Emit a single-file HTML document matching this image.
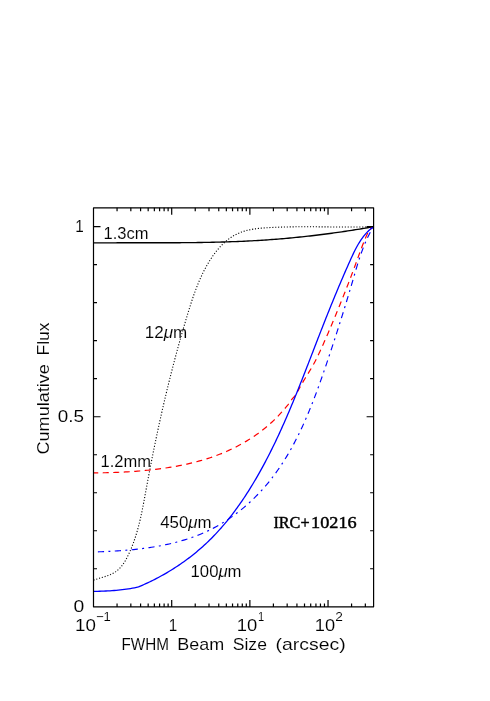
<!DOCTYPE html>
<html><head><meta charset="utf-8"><title>Cumulative Flux vs FWHM Beam Size</title>
<style>
html,body{margin:0;padding:0;background:#fff;}
body{width:490px;height:701px;overflow:hidden;font-family:"Liberation Sans",sans-serif;}
svg{display:block;will-change:transform;}
</style></head><body>
<svg width="490" height="701" viewBox="0 0 490 701" role="img" aria-label="Cumulative flux versus FWHM beam size for IRC+10216">
<rect width="490" height="701" fill="#fff"/>
<g fill="none" stroke-linejoin="round">
<path d="M93.50 580.20 L95.39 579.53 L97.30 578.92 L99.22 578.34 L101.14 577.77 L103.07 577.19 L104.98 576.60 L106.88 575.96 L108.77 575.27 L110.62 574.51 L112.44 573.66 L114.20 572.70 L115.88 571.60 L117.47 570.38 L118.96 569.04 L120.36 567.60 L121.65 566.07 L122.87 564.47 L124.00 562.82 L125.05 561.11 L126.05 559.37 L127.00 557.61 L127.90 555.81 L128.77 554.01 L129.61 552.18 L130.42 550.35 L131.20 548.50 L131.96 546.65 L132.68 544.78 L133.39 542.90 L134.06 541.01 L134.72 539.11 L135.35 537.21 L135.96 535.30 L136.54 533.38 L137.11 531.45 L137.65 529.52 L138.18 527.59 L138.69 525.65 L139.18 523.71 L139.66 521.76 L140.12 519.81 L140.57 517.85 L141.01 515.89 L141.43 513.93 L141.85 511.97 L142.25 510.01 L142.65 508.04 L143.03 506.07 L143.41 504.10 L143.79 502.13 L144.16 500.16 L144.52 498.19 L144.89 496.21 L145.25 494.24 L145.61 492.27 L145.97 490.30 L146.33 488.32 L146.69 486.35 L147.06 484.38 L147.42 482.41 L147.79 480.43 L148.16 478.46 L148.53 476.49 L148.91 474.52 L149.28 472.55 L149.66 470.58 L150.04 468.61 L150.42 466.64 L150.80 464.67 L151.19 462.70 L151.57 460.74 L151.96 458.77 L152.35 456.80 L152.75 454.83 L153.14 452.87 L153.54 450.90 L153.94 448.94 L154.34 446.97 L154.75 445.01 L155.15 443.04 L155.56 441.08 L155.97 439.11 L156.38 437.15 L156.80 435.19 L157.21 433.23 L157.63 431.27 L158.05 429.30 L158.48 427.34 L158.90 425.38 L159.33 423.42 L159.76 421.46 L160.19 419.51 L160.63 417.55 L161.06 415.59 L161.50 413.63 L161.95 411.68 L162.39 409.72 L162.84 407.77 L163.29 405.81 L163.74 403.86 L164.19 401.90 L164.65 399.95 L165.11 398.00 L165.57 396.05 L166.04 394.09 L166.50 392.14 L166.97 390.19 L167.45 388.24 L167.92 386.30 L168.40 384.35 L168.88 382.40 L169.36 380.45 L169.85 378.51 L170.34 376.56 L170.83 374.62 L171.32 372.67 L171.82 370.73 L172.32 368.79 L172.82 366.85 L173.32 364.90 L173.83 362.96 L174.34 361.02 L174.85 359.08 L175.37 357.15 L175.89 355.21 L176.41 353.27 L176.93 351.34 L177.46 349.40 L177.99 347.47 L178.53 345.53 L179.06 343.60 L179.60 341.67 L180.14 339.74 L180.69 337.81 L181.24 335.88 L181.79 333.95 L182.34 332.02 L182.90 330.09 L183.46 328.17 L184.02 326.24 L184.59 324.32 L185.16 322.40 L185.73 320.47 L186.31 318.55 L186.89 316.63 L187.47 314.71 L188.05 312.79 L188.64 310.88 L189.24 308.96 L189.83 307.05 L190.44 305.13 L191.05 303.22 L191.67 301.32 L192.31 299.41 L192.95 297.51 L193.60 295.62 L194.27 293.72 L194.95 291.84 L195.64 289.96 L196.35 288.08 L197.08 286.21 L197.82 284.35 L198.58 282.49 L199.36 280.64 L200.17 278.81 L200.99 276.98 L201.83 275.16 L202.70 273.35 L203.59 271.55 L204.51 269.77 L205.45 267.99 L206.41 266.24 L207.40 264.49 L208.42 262.76 L209.47 261.05 L210.54 259.36 L211.64 257.68 L212.78 256.03 L213.94 254.40 L215.14 252.79 L216.38 251.21 L217.65 249.66 L218.96 248.14 L220.30 246.65 L221.69 245.20 L223.11 243.79 L224.58 242.42 L226.09 241.10 L227.65 239.84 L229.24 238.62 L230.88 237.47 L232.57 236.38 L234.30 235.36 L236.06 234.41 L237.87 233.55 L239.72 232.76 L241.59 232.05 L243.49 231.41 L245.42 230.84 L247.36 230.33 L249.31 229.88 L251.28 229.49 L253.25 229.14 L255.24 228.84 L257.22 228.57 L259.22 228.35 L261.21 228.15 L263.21 227.98 L265.21 227.83 L267.21 227.70 L269.22 227.59 L271.22 227.49 L273.22 227.39 L275.23 227.31 L277.23 227.23 L279.24 227.16 L281.24 227.10 L283.25 227.04 L285.25 226.99 L287.26 226.94 L289.26 226.90 L291.27 226.87 L293.27 226.84 L295.28 226.82 L297.28 226.80 L299.29 226.78 L301.30 226.77 L303.30 226.77 L305.31 226.77 L307.31 226.77 L309.32 226.77 L311.32 226.78 L313.33 226.79 L315.34 226.80 L317.34 226.82 L319.35 226.83 L321.35 226.85 L323.36 226.87 L325.36 226.89 L327.37 226.91 L329.38 226.93 L331.38 226.94 L333.39 226.96 L335.39 226.98 L337.40 227.00 L339.40 227.01 L341.41 227.03 L343.42 227.04 L345.42 227.05 L347.43 227.06 L349.43 227.06 L351.44 227.06 L353.44 227.06 L355.45 227.06 L357.46 227.05 L359.46 227.03 L361.47 227.01 L363.47 226.99 L365.48 226.96 L367.48 226.93 L369.49 226.89 L371.49 226.85 L373.50 226.80" stroke="#000" stroke-width="1.1" stroke-dasharray="1.1 1.8"/>
<path d="M93.50 242.90 L95.51 242.88 L97.51 242.87 L99.52 242.86 L101.53 242.85 L103.53 242.84 L105.54 242.83 L107.55 242.82 L109.55 242.81 L111.56 242.81 L113.57 242.80 L115.57 242.80 L117.58 242.79 L119.59 242.79 L121.59 242.79 L123.60 242.79 L125.61 242.79 L127.61 242.79 L129.62 242.79 L131.63 242.79 L133.63 242.79 L135.64 242.79 L137.65 242.79 L139.65 242.79 L141.66 242.79 L143.66 242.79 L145.67 242.79 L147.68 242.79 L149.68 242.79 L151.69 242.79 L153.70 242.79 L155.70 242.79 L157.71 242.79 L159.72 242.79 L161.72 242.78 L163.73 242.78 L165.74 242.77 L167.74 242.77 L169.75 242.76 L171.76 242.75 L173.76 242.75 L175.77 242.74 L177.78 242.72 L179.78 242.71 L181.79 242.70 L183.80 242.68 L185.80 242.67 L187.81 242.65 L189.82 242.63 L191.82 242.60 L193.83 242.58 L195.84 242.56 L197.84 242.53 L199.85 242.50 L201.85 242.47 L203.86 242.43 L205.87 242.40 L207.87 242.36 L209.88 242.32 L211.89 242.28 L213.89 242.23 L215.90 242.18 L217.90 242.13 L219.91 242.08 L221.92 242.02 L223.92 241.96 L225.93 241.90 L227.93 241.84 L229.94 241.77 L231.94 241.70 L233.95 241.62 L235.95 241.55 L237.96 241.47 L239.96 241.38 L241.97 241.30 L243.97 241.21 L245.98 241.11 L247.98 241.01 L249.99 240.91 L251.99 240.81 L253.99 240.70 L256.00 240.58 L258.00 240.47 L260.00 240.35 L262.01 240.22 L264.01 240.09 L266.01 239.96 L268.01 239.82 L270.01 239.68 L272.01 239.53 L274.02 239.38 L276.02 239.23 L278.02 239.07 L280.02 238.90 L282.02 238.74 L284.02 238.56 L286.01 238.39 L288.01 238.21 L290.01 238.02 L292.01 237.84 L294.01 237.64 L296.00 237.45 L298.00 237.25 L300.00 237.04 L301.99 236.83 L303.99 236.62 L305.98 236.40 L307.98 236.18 L309.97 235.96 L311.96 235.73 L313.96 235.50 L315.95 235.26 L317.94 235.02 L319.93 234.77 L321.92 234.53 L323.91 234.27 L325.90 234.02 L327.89 233.76 L329.88 233.49 L331.87 233.22 L333.86 232.95 L335.85 232.67 L337.83 232.39 L339.82 232.11 L341.81 231.82 L343.79 231.53 L345.78 231.23 L347.76 230.94 L349.74 230.63 L351.73 230.33 L353.71 230.01 L355.69 229.70 L357.67 229.38 L359.65 229.06 L361.63 228.73 L363.61 228.40 L365.59 228.07 L367.57 227.73 L369.55 227.39 L371.52 227.05 L373.50 226.70" stroke="#000" stroke-width="1.35"/>
<path d="M93.50 472.90 L95.50 472.88 L97.50 472.86 L99.50 472.84 L101.51 472.81 L103.51 472.77 L105.51 472.73 L107.51 472.68 L109.51 472.63 L111.51 472.57 L113.51 472.50 L115.51 472.43 L117.51 472.35 L119.51 472.26 L121.51 472.17 L123.51 472.07 L125.51 471.96 L127.51 471.85 L129.50 471.73 L131.50 471.60 L133.50 471.46 L135.49 471.31 L137.49 471.16 L139.48 470.99 L141.48 470.82 L143.47 470.64 L145.46 470.45 L147.46 470.25 L149.45 470.05 L151.44 469.83 L153.42 469.60 L155.41 469.36 L157.40 469.12 L159.38 468.86 L161.37 468.59 L163.35 468.31 L165.33 468.02 L167.31 467.72 L169.29 467.41 L171.26 467.09 L173.23 466.75 L175.21 466.41 L177.17 466.05 L179.14 465.68 L181.11 465.29 L183.07 464.90 L185.03 464.48 L186.98 464.06 L188.93 463.62 L190.88 463.17 L192.83 462.70 L194.77 462.21 L196.71 461.71 L198.64 461.19 L200.57 460.66 L202.50 460.11 L204.41 459.54 L206.33 458.95 L208.24 458.34 L210.14 457.72 L212.03 457.08 L213.92 456.42 L215.80 455.74 L217.68 455.04 L219.55 454.31 L221.41 453.57 L223.26 452.81 L225.10 452.03 L226.94 451.24 L228.76 450.42 L230.58 449.58 L232.39 448.72 L234.18 447.84 L235.97 446.94 L237.75 446.02 L239.52 445.08 L241.27 444.12 L243.02 443.14 L244.75 442.13 L246.47 441.11 L248.18 440.07 L249.88 439.01 L251.56 437.93 L253.23 436.82 L254.89 435.70 L256.53 434.55 L258.15 433.39 L259.77 432.20 L261.36 430.99 L262.95 429.77 L264.51 428.52 L266.06 427.25 L267.59 425.96 L269.10 424.65 L270.60 423.32 L272.08 421.97 L273.54 420.60 L274.97 419.21 L276.39 417.80 L277.79 416.37 L279.17 414.92 L280.53 413.45 L281.88 411.97 L283.20 410.47 L284.51 408.95 L285.80 407.42 L287.07 405.88 L288.32 404.31 L289.51 402.70 L290.67 401.07 L291.82 399.44 L293.07 397.87 L294.48 396.46 L295.62 394.82 L296.65 393.10 L297.64 391.36 L298.61 389.61 L299.58 387.86 L300.55 386.11 L301.54 384.37 L302.54 382.64 L303.56 380.92 L304.60 379.20 L305.64 377.49 L306.69 375.79 L307.74 374.08 L308.79 372.38 L309.83 370.67 L310.86 368.96 L311.88 367.23 L312.88 365.50 L313.85 363.75 L314.80 361.99 L315.73 360.21 L316.63 358.42 L317.50 356.63 L318.37 354.82 L319.22 353.01 L320.06 351.19 L320.89 349.37 L321.72 347.55 L322.54 345.72 L323.36 343.90 L324.18 342.07 L324.99 340.24 L325.79 338.41 L326.60 336.57 L327.39 334.74 L328.19 332.90 L328.98 331.06 L329.77 329.22 L330.55 327.38 L331.33 325.54 L332.11 323.69 L332.88 321.85 L333.65 320.00 L334.42 318.15 L335.19 316.30 L335.95 314.45 L336.71 312.60 L337.47 310.75 L338.23 308.90 L338.98 307.04 L339.74 305.19 L340.49 303.33 L341.23 301.48 L341.98 299.62 L342.72 297.76 L343.47 295.90 L344.20 294.04 L344.94 292.18 L345.67 290.32 L346.41 288.46 L347.13 286.59 L347.86 284.73 L348.58 282.86 L349.30 280.99 L350.01 279.12 L350.73 277.25 L351.44 275.38 L352.14 273.51 L352.84 271.63 L353.54 269.76 L354.24 267.88 L354.93 266.00 L355.62 264.12 L356.30 262.24 L356.98 260.36 L357.66 258.48 L358.34 256.59 L359.03 254.71 L359.71 252.83 L360.41 250.96 L361.11 249.08 L361.81 247.21 L362.53 245.34 L363.26 243.47 L364.00 241.62 L364.76 239.76 L365.53 237.91 L366.32 236.08 L367.16 234.26 L368.10 232.50 L369.18 230.81 L370.43 229.25 L371.87 227.86 L373.50 226.70" stroke="#ff0000" stroke-width="1.2" stroke-dasharray="6 4.5" stroke-dashoffset="1.25"/>
<path d="M93.50 552.00 L95.50 551.93 L97.51 551.86 L99.51 551.79 L101.52 551.71 L103.52 551.62 L105.53 551.53 L107.53 551.44 L109.53 551.34 L111.54 551.23 L113.54 551.12 L115.54 551.00 L117.54 550.87 L119.54 550.74 L121.54 550.59 L123.54 550.44 L125.54 550.28 L127.54 550.12 L129.54 549.94 L131.54 549.75 L133.53 549.56 L135.53 549.35 L137.52 549.14 L139.52 548.91 L141.51 548.67 L143.50 548.42 L145.49 548.16 L147.47 547.88 L149.46 547.60 L151.44 547.30 L153.42 546.98 L155.40 546.66 L157.38 546.31 L159.35 545.96 L161.32 545.59 L163.29 545.20 L165.26 544.80 L167.22 544.38 L169.18 543.95 L171.13 543.50 L173.08 543.03 L175.03 542.55 L176.97 542.04 L178.90 541.52 L180.84 540.98 L182.76 540.42 L184.68 539.84 L186.60 539.24 L188.50 538.62 L190.41 537.98 L192.30 537.32 L194.18 536.64 L196.06 535.93 L197.93 535.21 L199.79 534.46 L201.64 533.68 L203.49 532.89 L205.32 532.07 L207.14 531.23 L208.95 530.36 L210.75 529.48 L212.53 528.56 L214.31 527.63 L216.07 526.67 L217.82 525.70 L219.56 524.70 L221.29 523.67 L223.00 522.63 L224.70 521.57 L226.39 520.49 L228.06 519.38 L229.73 518.26 L231.37 517.12 L233.01 515.96 L234.63 514.78 L236.24 513.58 L237.83 512.36 L239.41 511.13 L240.98 509.87 L242.53 508.60 L244.07 507.32 L245.60 506.01 L247.11 504.69 L248.60 503.36 L250.08 502.00 L251.55 500.63 L253.00 499.25 L254.44 497.85 L255.86 496.44 L257.27 495.01 L258.66 493.56 L260.03 492.10 L261.39 490.63 L262.74 489.14 L264.07 487.64 L265.38 486.13 L266.68 484.60 L267.97 483.06 L269.23 481.50 L270.48 479.93 L271.72 478.35 L272.94 476.76 L274.15 475.16 L275.34 473.54 L276.51 471.92 L277.67 470.28 L278.82 468.64 L279.95 466.98 L281.06 465.31 L282.16 463.64 L283.25 461.95 L284.33 460.26 L285.38 458.55 L286.43 456.84 L287.46 455.12 L288.48 453.39 L289.49 451.66 L290.48 449.92 L291.46 448.17 L292.43 446.41 L293.38 444.65 L294.33 442.88 L295.26 441.10 L296.18 439.32 L297.09 437.53 L297.99 435.74 L298.87 433.94 L299.75 432.13 L300.62 430.32 L301.47 428.51 L302.32 426.69 L303.15 424.87 L303.98 423.04 L304.80 421.21 L305.60 419.37 L306.40 417.53 L307.19 415.69 L307.97 413.84 L308.75 411.99 L309.51 410.14 L310.27 408.28 L311.02 406.42 L311.77 404.56 L312.50 402.69 L313.23 400.82 L313.96 398.95 L314.67 397.08 L315.38 395.20 L316.09 393.33 L316.79 391.45 L317.48 389.56 L318.17 387.68 L318.86 385.79 L319.53 383.91 L320.21 382.02 L320.88 380.13 L321.55 378.24 L322.21 376.34 L322.87 374.45 L323.52 372.55 L324.18 370.66 L324.83 368.76 L325.47 366.86 L326.12 364.96 L326.76 363.06 L327.40 361.16 L328.04 359.26 L328.68 357.36 L329.31 355.46 L329.95 353.55 L330.58 351.65 L331.21 349.75 L331.84 347.84 L332.47 345.94 L333.09 344.03 L333.72 342.12 L334.34 340.22 L334.96 338.31 L335.58 336.40 L336.20 334.49 L336.81 332.58 L337.43 330.68 L338.04 328.76 L338.65 326.85 L339.26 324.94 L339.86 323.03 L340.47 321.12 L341.07 319.20 L341.67 317.29 L342.27 315.38 L342.86 313.46 L343.46 311.55 L344.05 309.63 L344.64 307.71 L345.23 305.80 L345.82 303.88 L346.40 301.96 L346.98 300.04 L347.56 298.12 L348.14 296.20 L348.72 294.28 L349.29 292.36 L349.87 290.43 L350.44 288.51 L351.01 286.59 L351.57 284.66 L352.14 282.74 L352.70 280.81 L353.26 278.89 L353.82 276.96 L354.38 275.04 L354.94 273.11 L355.51 271.19 L356.07 269.26 L356.65 267.34 L357.23 265.42 L357.82 263.50 L358.42 261.59 L359.04 259.68 L359.66 257.77 L360.30 255.87 L360.95 253.98 L361.62 252.09 L362.31 250.20 L363.02 248.33 L363.74 246.46 L364.49 244.60 L365.27 242.75 L366.07 240.91 L366.89 239.08 L367.74 237.26 L368.62 235.46 L369.53 233.67 L370.48 231.90 L371.45 230.15 L372.46 228.41 L373.50 226.70" stroke="#0000ff" stroke-width="1.15" stroke-dasharray="6.2 4.35 2 4.35" stroke-dashoffset="12.5"/>
<path d="M93.50 591.40 L95.56 591.35 L97.62 591.30 L99.68 591.24 L101.74 591.17 L103.79 591.09 L105.85 591.00 L107.91 590.90 L109.96 590.79 L112.02 590.65 L114.07 590.51 L116.13 590.34 L118.18 590.15 L120.23 589.95 L122.28 589.72 L124.32 589.47 L126.36 589.19 L128.40 588.88 L130.43 588.55 L132.46 588.18 L134.48 587.79 L136.49 587.36 L138.50 586.90 L140.34 586.12 L142.18 585.33 L144.01 584.51 L145.83 583.69 L147.65 582.85 L149.45 581.99 L151.26 581.11 L153.05 580.23 L154.83 579.32 L156.61 578.40 L158.38 577.47 L160.14 576.52 L161.90 575.55 L163.64 574.58 L165.38 573.58 L167.11 572.57 L168.83 571.55 L170.54 570.51 L172.24 569.46 L173.93 568.39 L175.61 567.30 L177.29 566.21 L178.95 565.10 L180.60 563.97 L182.25 562.83 L183.88 561.67 L185.50 560.50 L187.12 559.32 L188.72 558.12 L190.31 556.90 L191.89 555.68 L193.46 554.43 L195.02 553.18 L196.56 551.91 L198.10 550.62 L199.62 549.32 L201.13 548.01 L202.63 546.68 L204.11 545.34 L205.58 543.98 L207.04 542.61 L208.49 541.23 L209.92 539.83 L211.34 538.42 L212.74 537.00 L214.14 535.56 L215.52 534.11 L216.89 532.65 L218.24 531.18 L219.58 529.69 L220.91 528.20 L222.23 526.69 L223.54 525.18 L224.83 523.65 L226.11 522.11 L227.38 520.56 L228.64 519.01 L229.88 517.44 L231.11 515.86 L232.34 514.28 L233.55 512.68 L234.75 511.08 L235.93 509.47 L237.11 507.85 L238.28 506.23 L239.43 504.60 L240.58 502.95 L241.71 501.31 L242.84 499.65 L243.95 497.99 L245.06 496.32 L246.15 494.65 L247.24 492.96 L248.32 491.28 L249.38 489.58 L250.44 487.89 L251.49 486.18 L252.53 484.47 L253.56 482.76 L254.59 481.04 L255.60 479.31 L256.61 477.59 L257.61 475.85 L258.60 474.11 L259.59 472.37 L260.56 470.62 L261.53 468.87 L262.49 467.12 L263.45 465.36 L264.39 463.60 L265.33 461.83 L266.26 460.06 L267.19 458.28 L268.11 456.51 L269.02 454.72 L269.93 452.94 L270.82 451.15 L271.72 449.36 L272.60 447.57 L273.48 445.77 L274.36 443.97 L275.22 442.16 L276.09 440.36 L276.94 438.55 L277.79 436.74 L278.64 434.92 L279.48 433.11 L280.31 431.29 L281.14 429.47 L281.96 427.64 L282.78 425.82 L283.60 423.99 L284.41 422.16 L285.21 420.33 L286.01 418.49 L286.81 416.66 L287.60 414.82 L288.39 412.98 L289.17 411.14 L289.95 409.30 L290.73 407.45 L291.50 405.61 L292.27 403.76 L293.04 401.91 L293.80 400.06 L294.56 398.21 L295.32 396.36 L296.07 394.50 L296.82 392.65 L297.57 390.79 L298.32 388.93 L299.06 387.08 L299.80 385.22 L300.54 383.36 L301.28 381.50 L302.01 379.64 L302.75 377.77 L303.48 375.91 L304.21 374.05 L304.94 372.18 L305.66 370.32 L306.39 368.46 L307.11 366.59 L307.84 364.72 L308.56 362.86 L309.28 360.99 L310.01 359.13 L310.73 357.26 L311.45 355.39 L312.17 353.53 L312.89 351.66 L313.61 349.79 L314.33 347.93 L315.05 346.06 L315.78 344.19 L316.50 342.33 L317.22 340.46 L317.94 338.59 L318.67 336.73 L319.39 334.86 L320.12 333.00 L320.85 331.13 L321.58 329.27 L322.31 327.41 L323.04 325.55 L323.77 323.68 L324.51 321.82 L325.24 319.96 L325.98 318.10 L326.72 316.24 L327.46 314.38 L328.20 312.52 L328.95 310.67 L329.70 308.81 L330.44 306.95 L331.19 305.10 L331.95 303.24 L332.70 301.39 L333.46 299.54 L334.22 297.69 L334.98 295.84 L335.75 293.99 L336.51 292.14 L337.28 290.29 L338.05 288.45 L338.83 286.60 L339.61 284.76 L340.39 282.91 L341.17 281.07 L341.96 279.23 L342.74 277.39 L343.54 275.55 L344.33 273.72 L345.13 271.88 L345.93 270.05 L346.74 268.22 L347.54 266.39 L348.36 264.56 L349.17 262.73 L349.99 260.90 L350.81 259.08 L351.64 257.26 L352.48 255.44 L353.34 253.63 L354.21 251.83 L355.10 250.04 L356.02 248.26 L356.97 246.50 L357.95 244.76 L358.97 243.04 L360.03 241.34 L361.14 239.67 L362.29 238.04 L363.50 236.44 L364.76 234.88 L366.07 233.37 L367.44 231.92 L368.87 230.52 L370.36 229.18 L371.90 227.90 L373.50 226.70" stroke="#0000ff" stroke-width="1.3"/>
</g>
<path d="M117.06 606.9v-3.5M117.06 207.8v3.5M130.83 606.9v-3.5M130.83 207.8v3.5M140.59 606.9v-3.5M140.59 207.8v3.5M148.17 606.9v-3.5M148.17 207.8v3.5M154.36 606.9v-3.5M154.36 207.8v3.5M159.59 606.9v-3.5M159.59 207.8v3.5M164.12 606.9v-3.5M164.12 207.8v3.5M168.12 606.9v-3.5M168.12 207.8v3.5M171.70 606.9v-7.0M171.70 207.8v7.0M195.23 606.9v-3.5M195.23 207.8v3.5M209.00 606.9v-3.5M209.00 207.8v3.5M218.76 606.9v-3.5M218.76 207.8v3.5M226.34 606.9v-3.5M226.34 207.8v3.5M232.53 606.9v-3.5M232.53 207.8v3.5M237.76 606.9v-3.5M237.76 207.8v3.5M242.29 606.9v-3.5M242.29 207.8v3.5M246.29 606.9v-3.5M246.29 207.8v3.5M249.87 606.9v-7.0M249.87 207.8v7.0M273.40 606.9v-3.5M273.40 207.8v3.5M287.17 606.9v-3.5M287.17 207.8v3.5M296.93 606.9v-3.5M296.93 207.8v3.5M304.51 606.9v-3.5M304.51 207.8v3.5M310.70 606.9v-3.5M310.70 207.8v3.5M315.93 606.9v-3.5M315.93 207.8v3.5M320.46 606.9v-3.5M320.46 207.8v3.5M324.46 606.9v-3.5M324.46 207.8v3.5M328.04 606.9v-7.0M328.04 207.8v7.0M351.57 606.9v-3.5M351.57 207.8v3.5M365.34 606.9v-3.5M365.34 207.8v3.5M93.5 568.75h3.5M373.6 568.75h-3.5M93.5 530.74h3.5M373.6 530.74h-3.5M93.5 492.74h3.5M373.6 492.74h-3.5M93.5 454.73h3.5M373.6 454.73h-3.5M93.5 416.73h7.0M373.6 416.73h-7.0M93.5 378.72h3.5M373.6 378.72h-3.5M93.5 340.72h3.5M373.6 340.72h-3.5M93.5 302.71h3.5M373.6 302.71h-3.5M93.5 264.70h3.5M373.6 264.70h-3.5M93.5 226.70h7.0M373.6 226.70h-7.0" stroke="#000" stroke-width="1.2" fill="none"/>
<rect x="93.5" y="207.8" width="280.1" height="399.0" fill="none" stroke="#000" stroke-width="1.2" stroke-linejoin="round"/>
<text transform="translate(75.20 231.80) scale(0.900 1)" font-family="'Liberation Sans', sans-serif" font-size="17.0" stroke="#fff" stroke-width="0.1">1</text>
<text transform="translate(57.67 421.90) scale(1.110 1)" font-family="'Liberation Sans', sans-serif" font-size="17.0" stroke="#fff" stroke-width="0.1">0.5</text>
<text transform="translate(73.45 611.80) scale(1.138 1)" font-family="'Liberation Sans', sans-serif" font-size="17.0" stroke="#fff" stroke-width="0.1">0</text>
<text transform="translate(75.12 630.60) scale(1.106 1)" font-family="'Liberation Sans', sans-serif" font-size="17.0" stroke="#fff" stroke-width="0.1">10</text>
<text transform="translate(95.97 620.60) scale(1.054 1)" font-family="'Liberation Sans', sans-serif" font-size="12.4" stroke="#fff" stroke-width="0.1">−1</text>
<text transform="translate(168.80 630.60) scale(0.900 1)" font-family="'Liberation Sans', sans-serif" font-size="17.0" stroke="#fff" stroke-width="0.1">1</text>
<text transform="translate(236.75 630.60) scale(1.082 1)" font-family="'Liberation Sans', sans-serif" font-size="17.0" stroke="#fff" stroke-width="0.1">10</text>
<text transform="translate(258.01 620.60) scale(0.900 1)" font-family="'Liberation Sans', sans-serif" font-size="12.4" stroke="#fff" stroke-width="0.1">1</text>
<text transform="translate(314.85 630.60) scale(1.076 1)" font-family="'Liberation Sans', sans-serif" font-size="17.0" stroke="#fff" stroke-width="0.1">10</text>
<text transform="translate(335.17 620.60) scale(1.109 1)" font-family="'Liberation Sans', sans-serif" font-size="12.4" stroke="#fff" stroke-width="0.1">2</text>
<text transform="translate(121.55 650.00) scale(0.898 1)" font-family="'Liberation Sans', sans-serif" font-size="17.0" stroke="#fff" stroke-width="0.1">FWHM</text>
<text transform="translate(177.22 650.00) scale(1.056 1)" font-family="'Liberation Sans', sans-serif" font-size="17.0" stroke="#fff" stroke-width="0.1">Beam</text>
<text transform="translate(232.72 650.00) scale(1.035 1)" font-family="'Liberation Sans', sans-serif" font-size="17.0" stroke="#fff" stroke-width="0.1">Size</text>
<text transform="translate(275.56 650.00) scale(1.143 1)" font-family="'Liberation Sans', sans-serif" font-size="17.0" stroke="#fff" stroke-width="0.1">(arcsec)</text>
<text transform="translate(48.90 454.50) rotate(-90) scale(1.063 1)" font-family="'Liberation Sans', sans-serif" font-size="17.0" stroke="#fff" stroke-width="0.1">Cumulative</text>
<text transform="translate(48.90 355.44) rotate(-90) scale(1.025 1)" font-family="'Liberation Sans', sans-serif" font-size="17.0" stroke="#fff" stroke-width="0.1">Flux</text>
<text transform="translate(103.49 239.00) scale(1.052 1)" font-family="'Liberation Sans', sans-serif" font-size="15.7" stroke="#fff" stroke-width="0.1">1.3cm</text>
<text transform="translate(144.74 338.00) scale(1.086 1)" font-family="'Liberation Sans', sans-serif" font-size="15.7" stroke="#fff" stroke-width="0.1">12<tspan font-style="italic">μ</tspan>m</text>
<text transform="translate(100.58 466.80) scale(1.054 1)" font-family="'Liberation Sans', sans-serif" font-size="15.7" stroke="#fff" stroke-width="0.1">1.2mm</text>
<text transform="translate(160.13 527.50) scale(1.075 1)" font-family="'Liberation Sans', sans-serif" font-size="15.7" stroke="#fff" stroke-width="0.1">450<tspan font-style="italic">μ</tspan>m</text>
<text transform="translate(190.57 577.10) scale(1.064 1)" font-family="'Liberation Sans', sans-serif" font-size="15.7" stroke="#fff" stroke-width="0.1">100<tspan font-style="italic">μ</tspan>m</text>
<text transform="translate(273.42 527.50) scale(0.953 1)" font-family="'Liberation Serif', serif" font-size="17.0" stroke="#000" stroke-width="0.45">IRC+</text>
<text transform="translate(311.09 527.50) scale(1.072 1)" font-family="'Liberation Serif', serif" font-size="17.0" stroke="#000" stroke-width="0.45">10216</text>
</svg>
</body></html>
